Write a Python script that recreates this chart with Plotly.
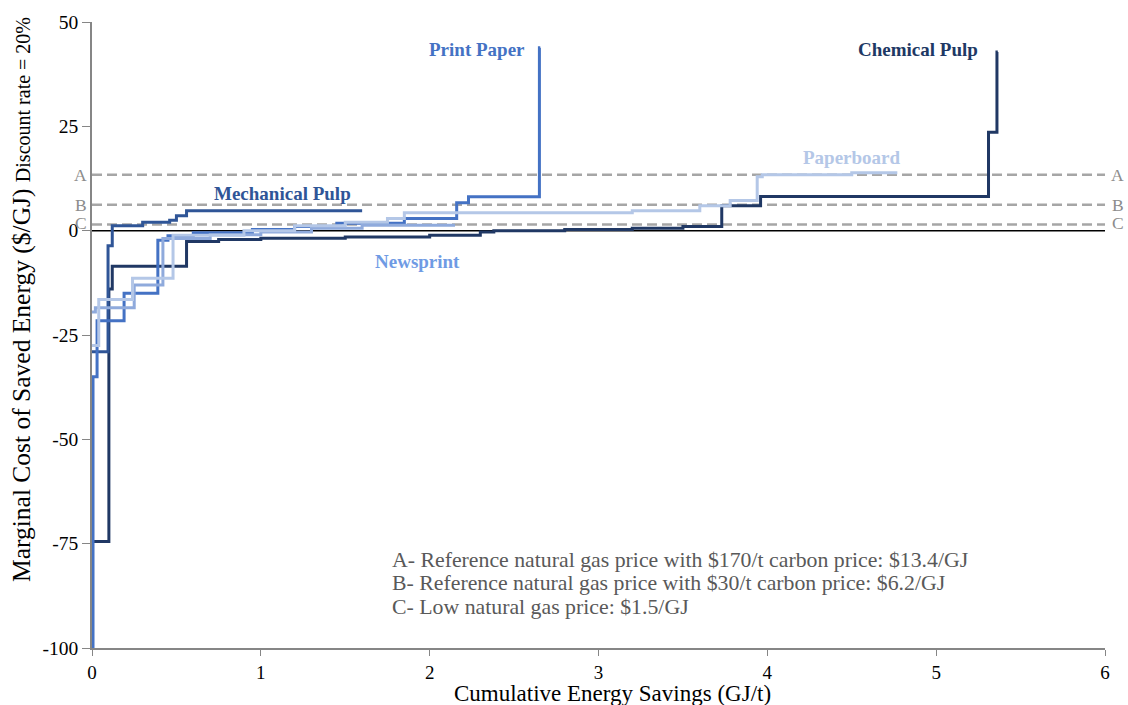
import plotly.graph_objects as go

# Conservation supply curves: cumulative savings (GJ/t) at the end of each measure,
# and the marginal cost of saved energy ($/GJ) of that measure.
chem_end = [0.10, 0.12, 0.56, 0.75, 1.0, 1.5, 2.0, 2.3, 2.38, 2.8, 3.2, 3.5, 3.73, 3.96, 5.31, 5.36, 5.365]
chem_cost = [-74.5, -14, -8.5, -2.6, -2.1, -1.8, -1.5, -1.1, -0.3, 0.0, 0.3, 0.6, 1.0, 6.0, 8.2, 23.6, 42.8]

mech_end = [0.095, 0.12, 0.30, 0.46, 0.50, 0.56, 1.60]
mech_cost = [-29, -3.6, 1.2, 2.0, 2.5, 3.6, 4.8]

print_end = [0.006, 0.03, 0.19, 0.39, 0.45, 0.6, 0.95, 1.2, 1.45, 1.85, 2.16, 2.23, 2.65, 2.655]
print_cost = [-100, -35, -21.6, -15, -2.3, -1.2, -0.5, 0.3, 1.0, 1.8, 2.9, 6.7, 8.1, 43.8]

news_end = [0.02, 0.25, 0.42, 0.70, 1.0, 1.3, 1.6, 2.15]
news_cost = [-19.5, -18.5, -13, -1.9, -1.0, -0.3, 0.6, 1.3]

board_end = [0.04, 0.24, 0.48, 0.9, 1.2, 1.5, 1.75, 1.85, 3.2, 3.6, 3.78, 3.94, 3.97, 4.5, 4.77]
board_cost = [-27.5, -16.5, -11.4, -1.1, 0.0, 1.2, 2.0, 2.9, 4.3, 4.8, 6.0, 7.2, 12.9, 13.4, 13.9]

# Energy price thresholds ($/GJ)
price_names = ["A", "B", "C"]
price_values = [13.4, 6.2, 1.5]
price_notes = [
    "A- Reference natural gas price with $170/t carbon price: $13.4/GJ",
    "B- Reference natural gas price with $30/t carbon price: $6.2/GJ",
    "C- Low natural gas price: $1.5/GJ",
]

x_ticks = [0, 1, 2, 3, 4, 5, 6]
y_ticks = [50, 25, 0, -25, -50, -75, -100]
y_tick_text = ["50", "25", "0", "-25", "-50", "-75", "-100"]

X_MAX = 6
SERIF = "Liberation Serif, Times New Roman, serif"
GRAY = "#a6a6a6"

fig = go.Figure()

# Price threshold lines
for name, val in zip(price_names, price_values):
    fig.add_trace(go.Scatter(
        x=[0, X_MAX], y=[val, val], mode="lines",
        line=dict(color=GRAY, width=2.5, dash="10px,5px"),
        hoverinfo="skip", showlegend=False,
    ))

# Zero-cost line
fig.add_trace(go.Scatter(
    x=[0, X_MAX], y=[0, 0], mode="lines",
    line=dict(color="#000000", width=1.5),
    hoverinfo="skip", showlegend=False,
))


def step_points(ends, costs):
    xs = [0] + list(ends)
    ys = [costs[0]] + list(costs)
    return xs, ys


series = [
    ("Chemical Pulp", chem_end, chem_cost, "#203864"),
    ("Mechanical Pulp", mech_end, mech_cost, "#2f5597"),
    ("Print Paper", print_end, print_cost, "#4472c4"),
    ("Newsprint", news_end, news_cost, "#8faadc"),
    ("Paperboard", board_end, board_cost, "#b4c7e7"),
]

for name, ends, costs, color in series:
    xs, ys = step_points(ends, costs)
    fig.add_trace(go.Scatter(
        x=xs, y=ys, mode="lines", name=name,
        line=dict(color=color, width=3, shape="vh"),
        showlegend=False,
    ))

# Curve labels
curve_labels = [
    ("Print Paper", 2.28, 43.5, "#4472c4"),
    ("Chemical Pulp", 4.89, 43.5, "#203864"),
    ("Mechanical Pulp", 1.13, 9.0, "#2f5597"),
    ("Paperboard", 4.50, 17.5, "#b4c7e7"),
    ("Newsprint", 1.93, -7.5, "#6f9be4"),
]
annotations = []
for text, x, y, color in curve_labels:
    annotations.append(dict(
        x=x, y=y, xref="x", yref="y", text="<b>%s</b>" % text,
        showarrow=False, font=dict(family=SERIF, size=19, color=color),
    ))

# Threshold letters on both sides of the plot area
for name, val in zip(price_names, price_values):
    for xp in (-0.0109, 1.0128):
        annotations.append(dict(
            x=xp, y=val, xref="paper", yref="y", xanchor="center",
            yanchor="middle", text=name, showarrow=False,
            yshift=1 if name == "C" else 0,
            font=dict(family=SERIF, size=17.5, color="#8c8c8c"),
        ))

# Notes describing the thresholds
for i, note in enumerate(price_notes):
    annotations.append(dict(
        x=1.765, y=-78.8 - 5.7 * i, xref="x", yref="y",
        xanchor="left", yanchor="middle", text=note, showarrow=False,
        font=dict(family=SERIF, size=21.8, color="#595959"),
    ))

# Axis titles
annotations.append(dict(
    x=-0.069, y=0.556, xref="paper", yref="paper", xanchor="center",
    yanchor="middle", textangle=-90, showarrow=False,
    text="Marginal Cost of Saved Energy ($/GJ) <span style='font-size:20px'>Discount rate = 20%</span>",
    font=dict(family=SERIF, size=25.5, color="#000000"),
))
annotations.append(dict(
    x=0.514, y=-0.073, xref="paper", yref="paper", xanchor="center",
    yanchor="middle", showarrow=False,
    text="Cumulative Energy Savings (GJ/t)",
    font=dict(family=SERIF, size=23, color="#000000"),
))

fig.update_layout(
    width=1128, height=705,
    margin=dict(l=92, r=23, t=17, b=57),
    paper_bgcolor="white", plot_bgcolor="white",
    font=dict(family=SERIF, size=18, color="#000000"),
    annotations=annotations,
    xaxis=dict(
        range=[0, X_MAX], tickvals=x_ticks, showgrid=False, zeroline=False,
        showline=True, linecolor="#868686", linewidth=1.5,
        ticks="outside", ticklen=6, tickcolor="#868686",
        tickfont=dict(family=SERIF, size=19, color="#000000"),
    ),
    yaxis=dict(
        range=[-100, 50], tickvals=y_ticks, ticktext=y_tick_text,
        showgrid=False, zeroline=False,
        showline=True, linecolor="#868686", linewidth=1.5,
        ticks="outside", ticklen=8, tickcolor="#868686",
        tickfont=dict(family=SERIF, size=19.5, color="#000000"),
    ),
)

fig.write_html("out.html")
